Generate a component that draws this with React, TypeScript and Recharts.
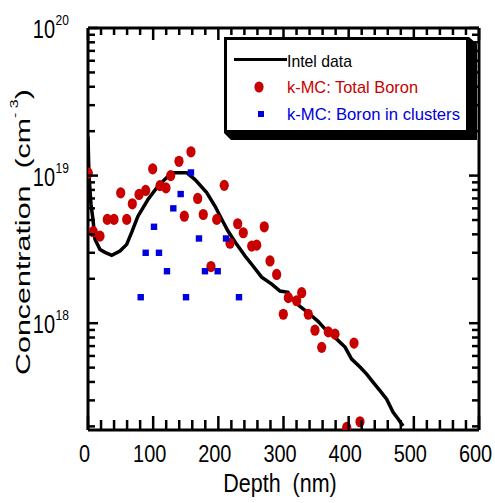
import React from 'react';
import { ScatterChart, Scatter, XAxis, YAxis, Customized } from 'recharts';

const FONT = 'Liberation Sans, Arial, Helvetica, sans-serif';

// Intel (SIMS) data: depth (nm) and concentration (cm^-3)
const intelDepth = [0, 1.5, 4.6, 7.7, 10.7, 18.4, 26.1, 36.4, 49.1, 59.4, 67, 74.7, 76.7, 92, 107.4, 120.8, 130.4, 151.4, 164.2, 182.1, 195, 207, 214.8, 228.2, 241, 253.2, 266.5, 281.9, 294.6, 306.9, 310, 325.3, 340.6, 353, 366.3, 381.6, 394.4, 404.6, 417.4, 427.6, 437.3, 448, 458.3, 468, 475.7, 483.4];
const intelConc = [1.84e19, 1.0e19, 6.4e18, 5.0e18, 3.7e18, 3.16e18, 3.02e18, 2.88e18, 3.08e18, 3.42e18, 4.12e18, 5.05e18, 5.31e18, 6.89e18, 8.47e18, 9.69e18, 1.047e19, 1.047e19, 9.4e18, 7.67e18, 6.2e18, 4.89e18, 4.21e18, 3.42e18, 2.85e18, 2.44e18, 2.05e18, 1.84e18, 1.65e18, 1.62e18, 1.5e18, 1.3e18, 1.15e18, 1.03e18, 8.88e17, 7.8e17, 6.89e17, 5.71e17, 5.05e17, 4.52e17, 3.99e17, 3.49e17, 3.06e17, 2.5e17, 2.25e17, 2.01e17];

// k-MC: Total Boron
const totalDepth = [0.5, 8.1, 18.4, 29.6, 39.9, 50.2, 59.4, 68, 78.3, 88.5, 99.3, 110.5, 119.7, 126.9, 139.6, 147.8, 158, 168.3, 176.9, 188.7, 197.5, 209.1, 217.9, 229.7, 238.3, 251.2, 258.9, 270.5, 279.3, 289.5, 299.7, 307.4, 320.2, 327.9, 338, 348.3, 358.6, 368.7, 379, 397, 408.2, 417.4];
const totalConc = [1.04e19, 4.17e18, 3.89e18, 5.05e18, 5.05e18, 7.64e18, 5.05e18, 6.44e18, 7.45e18, 7.93e18, 1.11e19, 8.55e18, 8.26e18, 1.0e19, 1.25e19, 5.31e18, 1.45e19, 7.0e18, 5.45e18, 2.42e18, 5.05e18, 8.59e18, 3.48e18, 4.72e18, 4.1e18, 3.33e18, 3.38e18, 4.5e18, 2.64e18, 2.14e18, 1.15e18, 1.49e18, 1.42e18, 1.61e18, 1.15e18, 8.97e17, 6.86e17, 8.73e17, 8.43e17, 1.97e17, 7.33e17, 2.15e17];

// k-MC: Boron in clusters
const clusterDepth = [80.9, 88.5, 101.3, 108.9, 121.2, 130.9, 142.2, 150.4, 158, 170.3, 179.5, 199, 211.8, 231.7];
const clusterConc = [1.5e18, 3.0e18, 4.5e18, 3.0e18, 2.25e18, 6.0e18, 7.5e18, 1.5e18, 1.05e19, 3.75e18, 2.25e18, 2.25e18, 3.75e18, 1.5e18];

const xTicks = [0, 20, 40, 60, 80, 100, 120, 140, 160, 180, 200, 220, 240, 260, 280, 300, 320, 340, 360, 380, 400, 420, 440, 460, 480, 500, 520, 540, 560, 580, 600];
const xLabelTicks = [0, 100, 200, 300, 400, 500, 600];
const yTicks = [2e17, 3e17, 4e17, 5e17, 6e17, 7e17, 8e17, 9e17, 1e18, 2e18, 3e18, 4e18, 5e18, 6e18, 7e18, 8e18, 9e18, 1e19, 2e19, 3e19, 4e19, 5e19, 6e19, 7e19, 8e19, 9e19, 1e20];
const yDomain = [1.89e17, 1e20];
const xDomain = [0, 600];

const legendLabels = ['Intel data', 'k-MC: Total Boron', 'k-MC: Boron in clusters'];
const xTitle = 'Depth  (nm)';
const yTitle = 'Concentration  (cm';

const RED = '#c80000';
const BLUE = '#0000dd';

const zip = (d: number[], c: number[]) => d.map((v, i) => ({ d: v, c: c[i] }));
const intelData = zip(intelDepth, intelConc);
const totalData = zip(totalDepth, totalConc);
const clusterData = zip(clusterDepth, clusterConc);

const isMajorY = (v: number) => Math.abs(Math.log10(v) - Math.round(Math.log10(v))) < 1e-6;

const LeftTick = (p: any) => {
  const { x, y, payload } = p;
  const v = payload.value;
  const major = isMajorY(v);
  const exp = Math.round(Math.log10(v));
  const base = Math.max(y + 10, 33);
  return (
    <g>
      <line x1={x} x2={x + (major ? 10 : 7)} y1={y} y2={y} stroke="#000" strokeWidth={2.5} />
      {major && (
        <g fontFamily={FONT} fill="#000">
          <text transform={`translate(${x - 33},${base}) scale(0.8,1)`} fontSize={25} textAnchor="end">10</text>
          <text transform={`translate(${x - 32.5},${base - 13}) scale(0.8,1)`} fontSize={15} textAnchor="start">{exp}</text>
        </g>
      )}
    </g>
  );
};

const RightTick = (p: any) => {
  const { x, y, payload } = p;
  const major = isMajorY(payload.value);
  return <line x1={x} x2={x - (major ? 10 : 7)} y1={y} y2={y} stroke="#000" strokeWidth={2.5} />;
};

const BottomTick = (p: any) => {
  const { x, y, payload } = p;
  const v = payload.value;
  const major = xLabelTicks.includes(v);
  return (
    <g>
      <line x1={x} x2={x} y1={y} y2={y - (major ? 14 : 10)} stroke="#000" strokeWidth={2.5} />
      {major && (
        <text transform={`translate(${x - 3.5},${y + 32}) scale(0.83,1)`} fontSize={24} fontFamily={FONT} textAnchor="middle" fill="#000">{v}</text>
      )}
    </g>
  );
};

const TopTick = (p: any) => {
  const { x, y, payload } = p;
  const major = xLabelTicks.includes(payload.value);
  return <line x1={x} x2={x} y1={y} y2={y + (major ? 12 : 7)} stroke="#000" strokeWidth={2.5} />;
};

const Empty = () => <g />;
const Dot = (p: any) => <ellipse cx={p.cx} cy={p.cy} rx={4.6} ry={5.6} fill={RED} />;
const Square = (p: any) => <rect x={p.cx - 3.2} y={p.cy - 3.2} width={6.4} height={6.4} fill={BLUE} />;

const Decor = () => (
  <g fontFamily={FONT}>
    {/* legend shadow & box */}
    <polygon points="469,37 477,44 477,140 231,140 224,133 469,133" fill="#000" />
    <rect x={225.5} y={38.5} width={242} height={93} fill="#fff" stroke="#000" strokeWidth={3} />
    <line x1={234} x2={287} y1={59.5} y2={59.5} stroke="#000" strokeWidth={3} />
    <text x={287} y={67} fontSize={17} fill="#000" textLength={65} lengthAdjust="spacingAndGlyphs">{legendLabels[0]}</text>
    <ellipse cx={259} cy={87} rx={4.6} ry={5.6} fill={RED} />
    <text x={287} y={93} fontSize={17} fill={RED} textLength={131} lengthAdjust="spacingAndGlyphs">{legendLabels[1]}</text>
    <rect x={258} y={111} width={6} height={6} fill={BLUE} />
    <text x={287} y={120} fontSize={17} fill={BLUE} textLength={173} lengthAdjust="spacingAndGlyphs">{legendLabels[2]}</text>
    {/* axis titles */}
    <text transform="translate(280,492) scale(0.86,1)" fontSize={25} textAnchor="middle" fill="#000" style={{ whiteSpace: 'pre' }}>{xTitle}</text>
    <text transform="translate(30,375) rotate(-90) scale(1.45,1)" fontSize={21} fill="#000" style={{ whiteSpace: 'pre' }}>
      {yTitle}
      <tspan fontSize={11} dy={-12}>{'- 3'}</tspan>
      <tspan fontSize={21} dy={12}>)</tspan>
    </text>
  </g>
);

export default function App() {
  const axisLine = { stroke: '#000', strokeWidth: 3 };
  return (
    <div style={{ position: 'absolute', left: 0, top: 0 }}>
      <ScatterChart width={495} height={503} margin={{ top: 0, right: 0, bottom: 0, left: 0 }}>
        <XAxis xAxisId="b" type="number" dataKey="d" domain={xDomain} ticks={xTicks} interval={0} orientation="bottom" height={73}
          tickSize={0} tickMargin={0} tickLine={false} axisLine={axisLine} tick={(p: any) => <BottomTick {...p} />} allowDataOverflow />
        <XAxis xAxisId="t" type="number" dataKey="d" domain={xDomain} ticks={xTicks} interval={0} orientation="top" height={28}
          tickSize={0} tickMargin={0} tickLine={false} axisLine={axisLine} tick={(p: any) => <TopTick {...p} />} allowDataOverflow />
        <YAxis yAxisId="l" type="number" dataKey="c" scale="log" domain={yDomain} ticks={yTicks} interval={0} orientation="left" width={88}
          tickSize={0} tickMargin={0} tickLine={false} axisLine={axisLine} tick={(p: any) => <LeftTick {...p} />} allowDataOverflow />
        <YAxis yAxisId="r" type="number" dataKey="c" scale="log" domain={yDomain} ticks={yTicks} interval={0} orientation="right" width={16}
          tickSize={0} tickMargin={0} tickLine={false} axisLine={axisLine} tick={(p: any) => <RightTick {...p} />} allowDataOverflow />
        <Scatter xAxisId="t" yAxisId="r" data={intelData} shape={Empty} isAnimationActive={false} />
        <Scatter xAxisId="b" yAxisId="l" data={intelData} shape={Empty} line={{ stroke: '#000', strokeWidth: 3.5 }} lineType="joint" isAnimationActive={false} />
        <Scatter xAxisId="b" yAxisId="l" data={totalData} shape={Dot} isAnimationActive={false} />
        <Scatter xAxisId="b" yAxisId="l" data={clusterData} shape={Square} isAnimationActive={false} />
        <Customized component={Decor} />
      </ScatterChart>
    </div>
  );
}
